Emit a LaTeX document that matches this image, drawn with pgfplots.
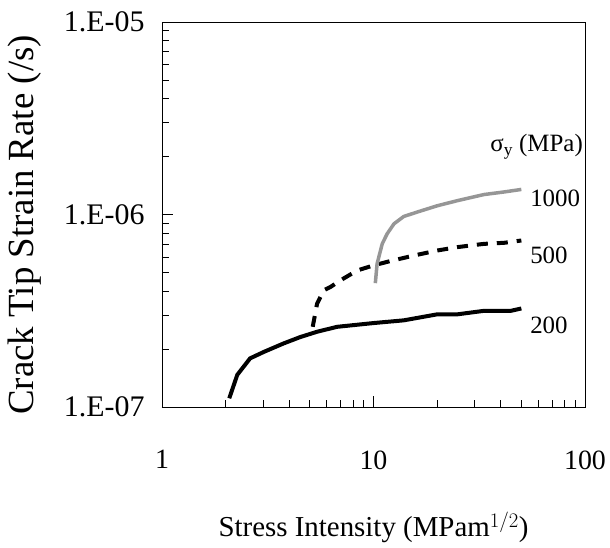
\documentclass[border=0pt]{standalone}
\usepackage{fontspec}
\setmainfont{Liberation Serif}
\usepackage{pgfplots}
\pgfplotsset{compat=1.18}
\usetikzlibrary{calc}
\definecolor{hatchgray}{RGB}{150,150,150}

\begin{document}
\begin{tikzpicture}
\begin{axis}[
  scale only axis,
  width=423bp, height=385bp,
  xmode=log, ymode=log,
  xmin=1, xmax=100,
  ymin=1e-7, ymax=1e-5,
  axis line style={black, line width=0.8bp},
  xtick={1,10,100}, xticklabels={1,10,100},
  ytick={1e-7,1e-6,1e-5}, yticklabels={1.E-07,1.E-06,1.E-05},
  xtick pos=bottom, ytick pos=left,
  tick align=inside,
  major tick length=11bp, minor tick length=7bp,
  tick style={black, line width=0.8bp},
  xticklabel style={font=\fontsize{28}{30}\selectfont, yshift=-40bp},
  yticklabel style={font=\fontsize{30}{32}\selectfont, xshift=-14bp},
  xlabel={Stress Intensity (MPam$^{1/2}$)},
  ylabel={Crack Tip Strain Rate (/s)},
  xlabel style={font=\fontsize{29}{31}\selectfont, at={(rel axis cs:0.5,0)}, anchor=center, yshift=-120bp},
  ylabel style={font=\fontsize{37}{39}\selectfont, at={(rel axis cs:0,0.473)}, anchor=center, yshift=137bp},
  clip=false,
]
\coordinate (O) at (rel axis cs:0,0);
\coordinate (T) at (rel axis cs:1,1);

% sigma_y = 200 MPa
\addplot[black, line width=4bp] coordinates {
  (2.08,1.11e-7)(2.27,1.47e-7)(2.61,1.79e-7)(3.02,1.93e-7)(3.76,2.14e-7)
  (4.51,2.31e-7)(5.41,2.46e-7)(6.73,2.61e-7)(10.0,2.73e-7)(13.9,2.82e-7)
  (20.0,3.03e-7)(24.9,3.03e-7)(33.3,3.16e-7)(44.6,3.16e-7)(50,3.25e-7)
};
% sigma_y = 500 MPa
\addplot[black, line width=4bp, dash pattern=on 11bp off 9bp] coordinates {
  (5.16,2.61e-7)(5.41,3.44e-7)(5.82,4.04e-7)(6.25,4.2e-7)(6.98,4.55e-7)
  (8.37,5.12e-7)(10.0,5.44e-7)(12.0,5.73e-7)(15.6,6.13e-7)(20.0,6.5e-7)
  (24.9,6.77e-7)(33.3,7.04e-7)(41.5,7.13e-7)(50,7.33e-7)
};
% sigma_y = 1000 MPa
\addplot[hatchgray, line width=3.5bp] coordinates {
  (10.2,4.4e-7)(10.4,5.55e-7)(11.0,7.05e-7)(11.6,7.94e-7)(12.5,8.95e-7)
  (13.9,9.77e-7)(16.1,1.03e-6)(20.0,1.11e-6)(24.9,1.18e-6)(33.3,1.27e-6)
  (41.5,1.31e-6)(50,1.35e-6)
};

\node[anchor=west, font=\fontsize{25}{27}\selectfont, inner sep=0pt] at (axis cs:35.6,2.24e-6) {σ\textsubscript{y} (MPa)};
\node[anchor=west, font=\fontsize{25}{27}\selectfont, inner sep=0pt] at (axis cs:55,1.22e-6) {1000};
\node[anchor=west, font=\fontsize{25}{27}\selectfont, inner sep=0pt] at (axis cs:55,6.16e-7) {500};
\node[anchor=west, font=\fontsize{25}{27}\selectfont, inner sep=0pt] at (axis cs:55,2.67e-7) {200};
\end{axis}
\path[use as bounding box] ($(O)+(-162bp,-141bp)$) rectangle ($(T)+(25bp,22bp)$);
\end{tikzpicture}
\end{document}
